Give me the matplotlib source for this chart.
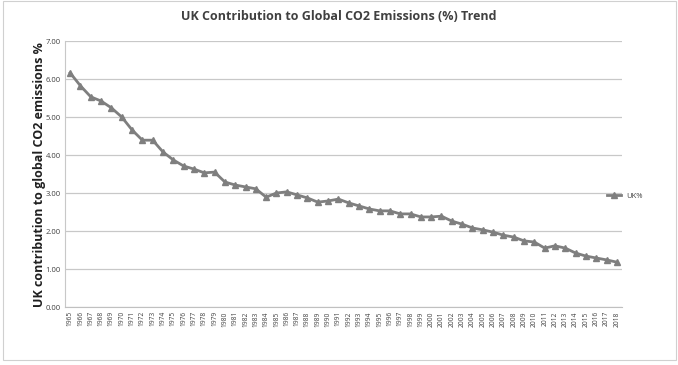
import matplotlib
matplotlib.use("Agg")
import matplotlib.pyplot as plt
from matplotlib.patches import Rectangle

years = list(range(1965, 2019))
uk_pct = [6.16, 5.82, 5.53, 5.42, 5.24, 5.00, 4.66, 4.39, 4.39, 4.08,
          3.87, 3.71, 3.63, 3.53, 3.55, 3.29, 3.21, 3.16, 3.11, 2.89,
          3.00, 3.03, 2.95, 2.87, 2.76, 2.79, 2.84, 2.74, 2.66, 2.58,
          2.53, 2.53, 2.45, 2.45, 2.37, 2.37, 2.39, 2.26, 2.18, 2.08,
          2.03, 1.97, 1.89, 1.84, 1.74, 1.71, 1.55, 1.61, 1.55, 1.42,
          1.34, 1.29, 1.24, 1.18]
y_ticks = [0, 1, 2, 3, 4, 5, 6, 7]

plt.rcParams['font.family'] = ['Open Sans', 'DejaVu Sans']

fig = plt.figure(figsize=(6.78, 3.65), dpi=100, facecolor='white')
ax = fig.add_axes([65 / 678, 1 - 307 / 365, 557 / 678, 266 / 365])

x = list(range(len(years)))
line, = ax.plot(x, uk_pct, color='#7f7f7f', lw=2, marker='^', ms=5,
                mec='#7f7f7f', mfc='#7f7f7f', label='UK%')

ax.set_xlim(-0.5, len(years) - 0.5)
ax.set_ylim(0, 7)
ax.set_yticks(y_ticks)
ax.set_yticklabels(['%.2f' % v for v in y_ticks], fontsize=5.5, color='#404040')
ax.set_xticks(x)
ax.set_xticklabels([str(y) for y in years], rotation=90, fontsize=4.8, color='#404040')
ax.tick_params(length=0, pad=3)
ax.grid(axis='y', color='#c8c8c8', lw=0.9)
ax.set_axisbelow(True)
for s in ['top', 'right']:
    ax.spines[s].set_visible(False)
ax.spines['bottom'].set_color('#c0c0c0')
ax.spines['left'].set_color('#c8c8c8')
ax.spines['left'].set_linewidth(0.8)

fig.text(0.5, 1 - 17 / 365, 'UK Contribution to Global CO2 Emissions (%) Trend',
         ha='center', va='center', fontsize=9, fontweight='bold', color='#404040')
fig.text(40 / 678, 1 - 175 / 365, 'UK contribution to global CO2 emissions %',
         ha='center', va='center', rotation=90, fontsize=9, fontweight='bold', color='#202020')

ax.legend(handles=[line], loc='center left', bbox_to_anchor=(600 / 678, 1 - 196 / 365),
          bbox_transform=fig.transFigure, frameon=False, fontsize=5.5,
          handlelength=1.8, labelcolor='#404040')

fig.patches.append(Rectangle((3 / 678, 5 / 365), 673 / 678, 359 / 365,
                             transform=fig.transFigure, fill=False,
                             edgecolor='#d0d0d0', lw=0.8))

fig.savefig('out.png', dpi=100)
